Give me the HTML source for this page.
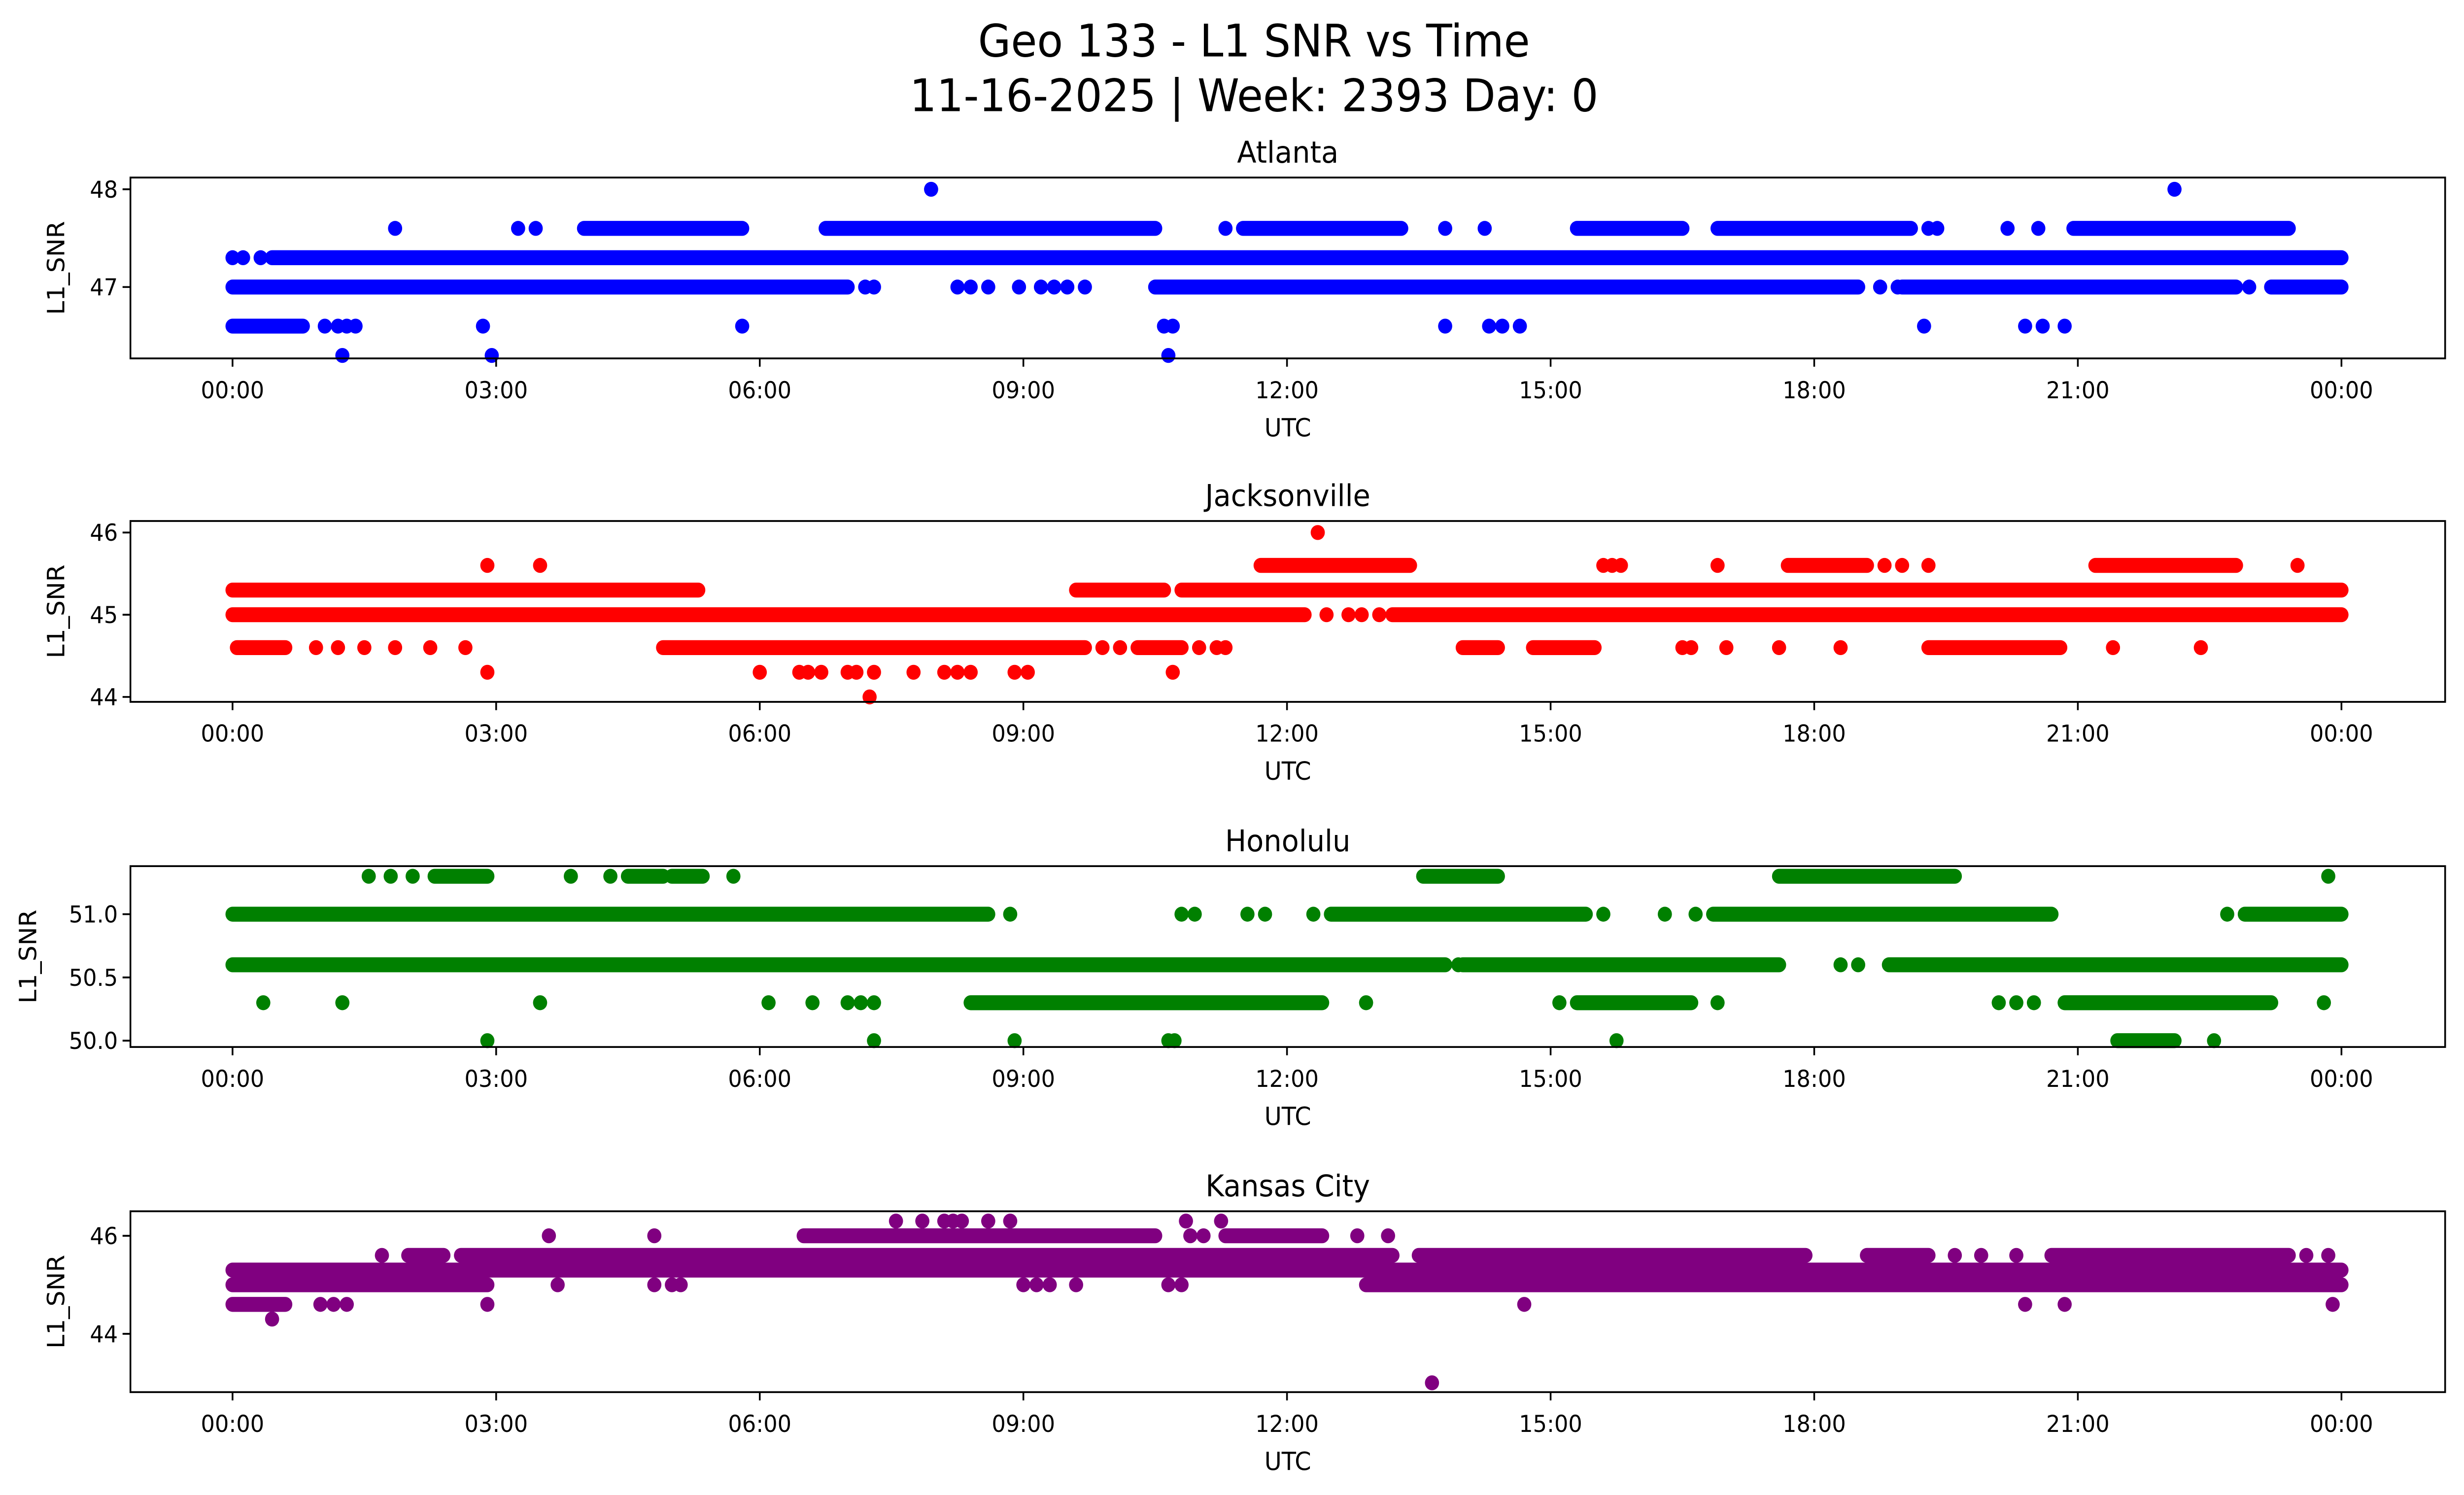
<!DOCTYPE html>
<html><head><meta charset="utf-8">
<style>
html,body{margin:0;padding:0;background:#fff;overflow:hidden;width:100%;height:100%;}
svg{display:block;position:absolute;left:0;top:0;width:100vw;height:100vh;font-family:"DejaVu Sans","Liberation Sans",sans-serif;}
</style></head>
<body>
<svg id="chart" viewBox="0 0 1568 901" preserveAspectRatio="none" xmlns="http://www.w3.org/2000/svg">
<rect width="1568" height="901" fill="#fff"/>
<text x="798" y="34" font-size="27" text-anchor="middle">Geo 133 - L1 SNR vs Time</text>
<text x="798" y="67" font-size="27" text-anchor="middle">11-16-2025 | Week: 2393 Day: 0</text>
<g id="panels"></g>
</svg>
<script>
// ---- data (hours UTC, SNR) ----
const xTickLabels = ["00:00","03:00","06:00","09:00","12:00","15:00","18:00","21:00","00:00"];
const xTickHours = [0,3,6,9,12,15,18,21,24];
const stationNames = ["Atlanta","Jacksonville","Honolulu","Kansas City"];
const stationColors = ["#0000ff","#ff0000","#008000","#800080"];
const yTicksAtl = [47,48];
const yTicksJax = [44,45,46];
const yTicksHnl = [50.0,50.5,51.0];
const yTicksKc = [44,46];
const yLimAtl = [46.27,48.12];
const yLimJax = [43.94,46.14];
const yLimHnl = [49.95,51.38];
const yLimKc = [42.81,46.5];
// runs: [snr, startHour, endHour]
const atlRuns = [[47.3,0.45,24],[47.0,0,7.0],[47.0,10.5,18.5],[47.0,19.0,22.8],[47.0,23.2,24],
 [47.6,4.0,5.8],[47.6,6.75,10.5],[47.6,11.5,13.3],[47.6,15.3,16.5],[47.6,16.9,19.1],[47.6,20.95,23.4],[46.6,0,0.8]];
const atlPts = [[7.2,47.0],[7.3,47.0],[8.25,47.0],[8.4,47.0],[8.6,47.0],[8.95,47.0],[9.2,47.0],[9.35,47.0],[9.5,47.0],[9.7,47.0],[18.75,47.0],[18.95,47.0],[22.95,47.0],
 [1.85,47.6],[3.25,47.6],[3.45,47.6],[11.3,47.6],[13.8,47.6],[14.25,47.6],[19.3,47.6],[19.4,47.6],[20.2,47.6],[20.55,47.6],
 [7.95,48.0],[22.1,48.0],
 [1.05,46.6],[1.2,46.6],[1.3,46.6],[1.4,46.6],[2.85,46.6],[5.8,46.6],[10.6,46.6],[10.7,46.6],[13.8,46.6],[14.3,46.6],[14.45,46.6],[14.65,46.6],[19.25,46.6],[20.4,46.6],[20.6,46.6],[20.85,46.6],
 [1.25,46.3],[2.95,46.3],[10.65,46.3],[0.0,47.3],[0.12,47.3],[0.32,47.3]];
const jaxRuns = [[45.0,0,12.2],[45.0,13.2,24],[45.3,0,5.3],[45.3,9.6,10.6],[45.3,10.8,24],[44.6,0.05,0.6],[44.6,4.9,9.7],[44.6,10.3,10.8],
 [44.6,14.0,14.4],[44.6,14.8,15.5],[44.6,19.3,20.8],[45.6,11.7,13.4],[45.6,21.2,22.8],[45.6,17.7,18.6]];
const jaxPts = [[12.45,45.0],[12.7,45.0],[12.85,45.0],[13.05,45.0],
 [0.95,44.6],[1.2,44.6],[1.5,44.6],[1.85,44.6],[2.25,44.6],[2.65,44.6],[9.9,44.6],[10.1,44.6],[11.0,44.6],[11.2,44.6],[11.3,44.6],[16.5,44.6],[16.6,44.6],[17.0,44.6],[17.6,44.6],[18.3,44.6],[21.4,44.6],[22.4,44.6],
 [2.9,45.6],[3.5,45.6],[15.6,45.6],[15.7,45.6],[15.8,45.6],[16.9,45.6],[18.8,45.6],[19.0,45.6],[19.3,45.6],[23.5,45.6],
 [12.35,46.0],
 [2.9,44.3],[6.0,44.3],[6.45,44.3],[6.55,44.3],[6.7,44.3],[7.0,44.3],[7.1,44.3],[7.3,44.3],[7.75,44.3],[8.1,44.3],[8.25,44.3],[8.4,44.3],[8.9,44.3],[9.05,44.3],[10.7,44.3],
 [7.25,44.0]];
const hnlRuns = [[50.6,0,13.8],[50.6,14.0,17.6],[50.6,18.85,24],[51.0,0,8.6],[51.0,12.5,15.4],[51.0,16.85,20.7],[51.0,22.9,24],
 [51.3,13.55,14.4],[51.3,17.6,19.6],[51.3,2.3,2.9],[51.3,4.5,4.9],[51.3,5.0,5.35],
 [50.3,8.4,12.4],[50.3,15.3,16.6],[50.3,20.85,23.2],[50.0,21.45,22.1]];
const hnlPts = [[13.95,50.6],[18.3,50.6],[18.5,50.6],
 [8.85,51.0],[10.8,51.0],[10.95,51.0],[11.55,51.0],[11.75,51.0],[12.3,51.0],[15.6,51.0],[16.3,51.0],[16.65,51.0],[22.7,51.0],
 [1.55,51.3],[1.8,51.3],[2.05,51.3],[3.85,51.3],[4.3,51.3],[5.7,51.3],[23.85,51.3],
 [0.35,50.3],[1.25,50.3],[3.5,50.3],[6.1,50.3],[6.6,50.3],[7.0,50.3],[7.15,50.3],[7.3,50.3],[12.9,50.3],[15.1,50.3],[16.9,50.3],[20.1,50.3],[20.3,50.3],[20.5,50.3],[23.8,50.3],
 [2.9,50.0],[7.3,50.0],[8.9,50.0],[10.65,50.0],[10.72,50.0],[15.75,50.0],[22.55,50.0]];
const kcRuns = [[45.3,0,24],[45.0,0,2.9],[45.0,12.9,24],[45.6,2.0,2.4],[45.6,2.6,13.2],[45.6,13.5,17.9],[45.6,18.6,19.3],[45.6,20.7,23.4],
 [46.0,6.5,10.5],[46.0,11.3,12.4],[44.6,0,0.6]];
const kcPts = [[3.7,45.0],[4.8,45.0],[5.0,45.0],[5.1,45.0],[9.0,45.0],[9.15,45.0],[9.3,45.0],[9.6,45.0],[10.65,45.0],[10.8,45.0],
 [1.7,45.6],[19.6,45.6],[19.9,45.6],[20.3,45.6],[23.6,45.6],[23.85,45.6],
 [3.6,46.0],[4.8,46.0],[10.9,46.0],[11.05,46.0],[12.8,46.0],[13.15,46.0],
 [7.55,46.3],[7.85,46.3],[8.1,46.3],[8.2,46.3],[8.3,46.3],[8.6,46.3],[8.85,46.3],[10.85,46.3],[11.25,46.3],
 [1.0,44.6],[1.15,44.6],[1.3,44.6],[2.9,44.6],[14.7,44.6],[20.4,44.6],[20.85,44.6],[23.9,44.6],
 [0.45,44.3],[13.65,43.0]];

const allRuns=[atlRuns,jaxRuns,hnlRuns,kcRuns];
const allPts=[atlPts,jaxPts,hnlPts,kcPts];
const allYTicks=[yTicksAtl,yTicksJax,yTicksHnl,yTicksKc];
const allYLims=[yLimAtl,yLimJax,yLimHnl,yLimKc];
const yTickFmt=[0,0,1,0];

const NS="http://www.w3.org/2000/svg";
const panelTops=[107,314,522,730], PH=109, X0=83, X1=1556;
const xLim=[-1.162,25.18];
function mk(tag,attrs,parent){const e=document.createElementNS(NS,tag);for(const k in attrs)e.setAttribute(k,attrs[k]);parent.appendChild(e);return e;}
const root=document.getElementById('panels');
for(let p=0;p<4;p++){
  const top=panelTops[p], bot=top+PH;
  const xs=h=>X0+(h-xLim[0])/(xLim[1]-xLim[0])*(X1-X0);
  const ys=v=>bot-(v-allYLims[p][0])/(allYLims[p][1]-allYLims[p][0])*PH;
  const g=mk('g',{},root);
  
  
  const t=mk('text',{x:(X0+X1)/2,y:top-9,'font-size':18,'text-anchor':'middle'},g);
  
  
  t.textContent=stationNames[p];
  const col=stationColors[p];
  const sg=mk('g',{},g);
  
  
  allRuns[p].forEach(r=>{
    const l=mk('line',{x1:xs(r[1]),x2:xs(r[2]),y1:ys(r[0]),y2:ys(r[0]),stroke:col,'stroke-width':9,'stroke-linecap':'round'},sg);
    
    
  });
  allPts[p].forEach(pt=>{
    const c=mk('circle',{cx:xs(pt[0]),cy:ys(pt[1]),r:4.5,fill:col},sg);
    
    
  });
  const fr=mk('rect',{x:X0,y:top,width:X1-X0,height:PH,fill:'none',stroke:'#000','stroke-width':1.1},g);
  
  
  xTickHours.forEach((h,i)=>{
    const x=xs(h);
    mk('line',{x1:x,x2:x,y1:bot,y2:bot+5,stroke:'#000','stroke-width':1.1},g);
    const tx=mk('text',{x:x,y:bot+24,'font-size':14,'text-anchor':'middle'},g);
    
    
    tx.textContent=xTickLabels[i];
  });
  const xl=mk('text',{x:(X0+X1)/2,y:bot+47,'font-size':15,'text-anchor':'middle'},g);
  
  
  xl.textContent='UTC';
  allYTicks[p].forEach(v=>{
    const y=ys(v);
    mk('line',{x1:X0-5,x2:X0,y1:y,y2:y,stroke:'#000','stroke-width':1.1},g);
    const ty=mk('text',{x:X0-8,y:y+5,'font-size':14,'text-anchor':'end'},g);
    
    
    ty.textContent=v.toFixed(yTickFmt[p]);
  });
  const yl=mk('text',{x:0,y:0,'font-size':15,'text-anchor':'middle',transform:`translate(${p==2?23:41},${top+PH/2}) rotate(-90)`},g);
  
  
  yl.textContent='L1_SNR';
}
</script>
</body></html>
